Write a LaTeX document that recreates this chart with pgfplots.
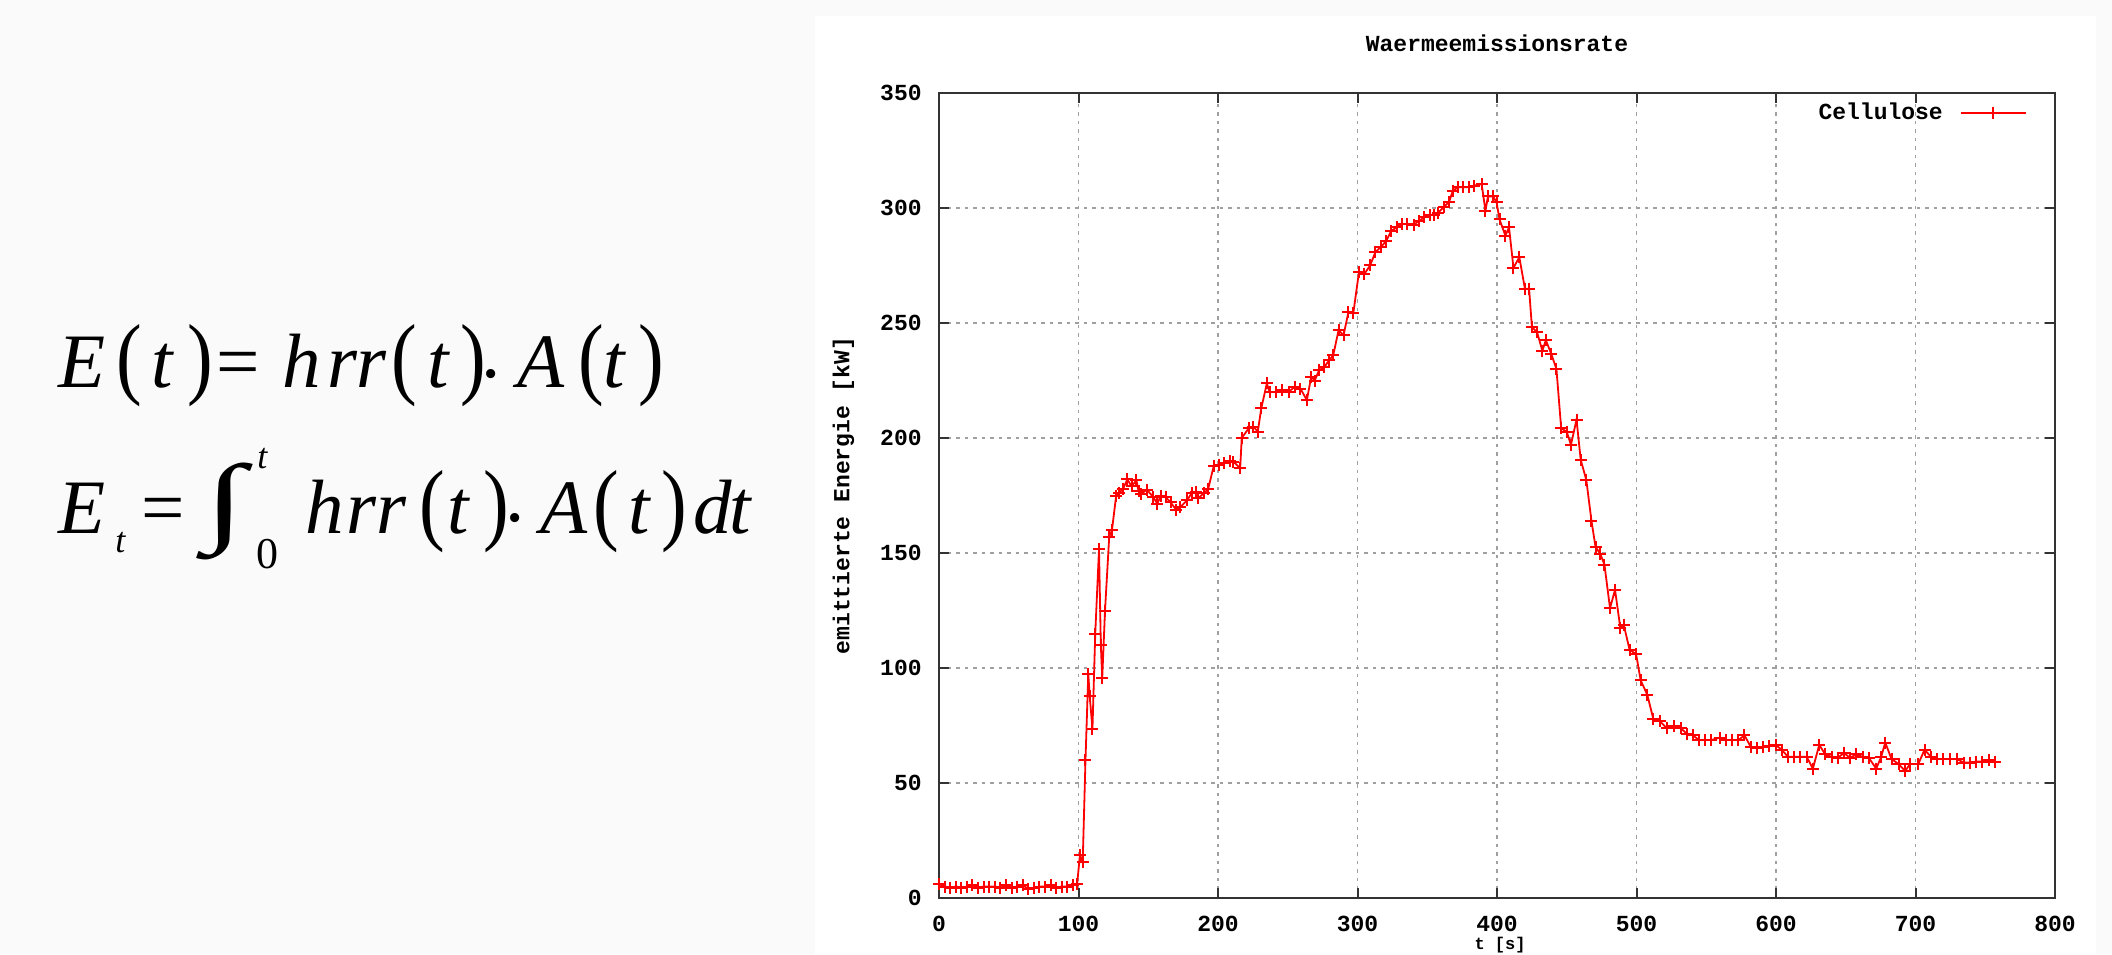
\documentclass[border=0pt]{standalone}
\usepackage{fontspec}
\usepackage{graphicx}
\usepackage{pgfplots}
\pgfplotsset{compat=1.18}
\newfontfamily\gpfont{Liberation Mono}
\newfontfamily\tms{Liberation Serif}
\definecolor{bgc}{HTML}{FAFAFA}
\definecolor{gridc}{HTML}{A0A0A0}
\definecolor{framec}{HTML}{333333}
\newcommand{\fbig}{\tms\itshape\fontsize{38.5}{40}\selectfont}
\newcommand{\fup}{\tms\upshape\fontsize{38.5}{40}\selectfont}
\newcommand{\fsub}{\tms\itshape\fontsize{18}{20}\selectfont}
\newcommand{\fzero}{\tms\upshape\fontsize{22}{24}\selectfont}
\newcommand{\gpf}{\gpfont\bfseries\fontsize{11.5}{12}\selectfont}
\newcommand{\gpfs}{\gpfont\bfseries\fontsize{8.5}{9}\selectfont}
\newcommand{\LP}{\scalebox{1}[1.18]{(}}
\newcommand{\RP}{\scalebox{1}[1.18]{)}}
\newcommand{\Gl}[4]{\node[anchor=base west,inner sep=0pt,font=#3] at ({#1*0.5pt},{(954-#2)*0.5pt}) {#4};}

\pgfplotstableread{
x y
0 6
4 5
8 4.5
12 5
16 4.5
20 5
24 5.5
28 4.5
32 5
36 5
40 5
44 4.5
48 5.5
52 4.5
56 5
60 5.5
64 4
68 4.5
72 5
76 5
80 5.5
84 4.5
88 5
92 5
96 5.5
99 6
101 18.5
103 15.5
105 60
107 97.5
108 88
110 73.6
112 115
114.7 151.6
116 110
117 95.6
119 125
122 157
124 160
127 175
129 176
132 178
135 182
138 179
141.5 181.6
143 177
145 175.8
149 177.5
153.6 174.3
156.5 171.4
159 175
162.5 174.3
166 172
170 168.8
173 170
178 173
181 176
184 176.5
186 174
190 176
193 178
197 188
200.8 188.3
204.5 189
208.3 190
211 189.7
215.9 186.9
217 200
222 204.2
225.4 205
228.5 202.7
231 212.9
235 223.7
237 220
241.8 220
246 220.8
250.6 220
255 222.3
259 221.5
263.7 216.5
266.8 226.6
269.3 225
272.5 229.5
276.3 230.9
279.6 233.8
282.6 236
286.4 246.8
290 244.7
293.5 254.8
297 254.3
301 272
305 271.4
309 275
312.8 280.8
316.6 283
320.4 285.5
324.2 290
328 291.6
331.7 293
335.5 293
340.5 292.8
344.3 294.5
348 296
352 297
355 297
358 298
362 300.6
365.7 302.7
368.3 307.5
372 309
375.8 309
379.6 309
383.4 309.7
389 310.4
391.7 298.8
393.5 305
397.2 305
399.7 302.5
401.8 295
406 288
408.6 291.6
411.8 274
416 278.6
420 264.9
423 264.9
425 248.3
428.7 246
432.5 238
435 242.5
438.8 236.7
442.6 230
446 204.2
450 202.7
453 197
457 208
460 190.5
464 181.8
467.7 164
470.6 152.7
474 149.6
477 145
481 126
484.6 134
488.4 117.4
490.8 118.9
495 108
499.7 106
503 94.6
507.7 88.4
512 78
516.6 77
521.7 73.8
527 74.9
531.8 73.8
536 71.4
540.4 70.7
544.8 68.7
549.3 68.7
553.7 68.7
559.6 69.7
564 68.7
568.5 68.7
573 68.7
577.4 70.7
582 65.6
586.4 65.1
590.8 65.6
595.3 66
599.7 66.6
604 64.5
608.6 61.4
613 61.4
617.5 61.4
622 61.4
626.4 56.2
631 66.6
635.3 62.4
639.8 61.4
644.2 61
648.7 63
653 61
657.6 62.4
662 61.4
666.5 61
671.8 56.2
675.4 61.4
678.3 67.6
682.8 60.4
687.8 58.3
692.6 55.2
696.1 58.3
702 58.3
706.5 64.5
711 61.4
715.4 60.4
719.9 60.4
724.5 60.4
729.4 60.4
734.7 58.9
739 58.9
743.6 59.3
748 59.3
752.5 59.8
757 59.3
}\cellulose

\begin{document}
\begin{tikzpicture}
\fill[bgc] (0,0) rectangle (1056pt,477pt);
\fill[white] (407.5pt,0) rectangle (1048pt,469pt);
% formula line 1
\Gl{58}{388}{\fbig}{E}
\Gl{116}{388}{\fup}{\LP}
\Gl{151}{388}{\fbig}{t}
\Gl{187}{388}{\fup}{\RP}
\Gl{216}{388}{\fup}{=}
\Gl{282}{388}{\fbig}{h}
\Gl{327}{388}{\fbig}{r}
\Gl{356}{388}{\fbig}{r}
\Gl{391}{388}{\fup}{\LP}
\Gl{427}{388}{\fbig}{t}
\Gl{460}{388}{\fup}{\RP}
\Gl{481}{388}{\fup}{\raisebox{5pt}{.}}
\Gl{517}{388}{\fbig}{A}
\Gl{578}{388}{\fup}{\LP}
\Gl{603}{388}{\fbig}{t}
\Gl{638}{388}{\fup}{\RP}
% formula line 2
\Gl{58}{533}{\fbig}{E}
\Gl{115}{552}{\fsub}{t}
\Gl{141}{533}{\fup}{=}
\node[anchor=north west,inner sep=0pt] at ({204*0.5pt},{(954-463)*0.5pt}) {\resizebox*{20.5pt}{48.5pt}{\tms ∫}};
\Gl{257}{468}{\fsub}{t}
\Gl{256}{568}{\fzero}{0}
\Gl{305}{533}{\fbig}{h}
\Gl{346}{533}{\fbig}{r}
\Gl{376}{533}{\fbig}{r}
\Gl{419}{533}{\fup}{\LP}
\Gl{447}{533}{\fbig}{t}
\Gl{483}{533}{\fup}{\RP}
\Gl{505}{533}{\fup}{\raisebox{6pt}{.}}
\Gl{540}{533}{\fbig}{A}
\Gl{593}{533}{\fup}{\LP}
\Gl{628}{533}{\fbig}{t}
\Gl{661}{533}{\fup}{\RP}
\Gl{693}{533}{\fbig}{d}
\Gl{729}{533}{\fbig}{t}
\begin{axis}[
  at={(469.5pt,28pt)}, anchor=south west,
  width=558pt, height=402.5pt, scale only axis,
  xmin=0, xmax=800, ymin=0, ymax=350,
  xtick={0,100,...,800}, ytick={0,50,...,350},
  tick align=inside, major tick length=5pt,
  tick style={framec, line width=1pt},
  axis line style={framec, line width=1.2pt},
  grid=major,
  grid style={gridc, line width=0.7pt, dash pattern=on 1.75pt off 2.5pt},
  ticklabel style={font=\gpf},
  /pgf/number format/assume math mode=true,
  xticklabel style={inner sep=0pt, anchor=north, yshift=-9pt},
  yticklabel style={inner sep=0pt, anchor=east, xshift=-8.5pt},
  title={Waermeemissionsrate},
  title style={at={(axis description cs:0.5,1.0472)}, anchor=center, inner sep=0pt, font=\gpf},
  ylabel={emittierte Energie [kW]},
  ylabel style={at={(axis description cs:-0.0855,0.5)}, anchor=center, inner sep=0pt, font=\gpf},
  xlabel={t [s]},
  xlabel style={at={(axis description cs:0.5027,-0.0693)}, anchor=south, inner sep=0pt, font=\gpfs},
  clip=false,
  legend plot pos=right,
  legend style={at={(axis description cs:0.9749,0.9752)}, anchor=east, draw=none, fill=none,
    inner sep=0pt, font=\gpf, column sep=8.5pt, nodes={inner sep=0pt}},
  legend image code/.code={\draw[mark repeat=2,mark phase=2,#1] plot coordinates {(0pt,0pt) (16.25pt,0pt) (32.5pt,0pt)};},
]
\addplot[red, line width=0.9pt, mark=+, mark size=3pt, mark options={line width=1pt}] table[x=x,y=y] {\cellulose};
\addlegendentry{Cellulose}
\end{axis}
\end{tikzpicture}
\end{document}
